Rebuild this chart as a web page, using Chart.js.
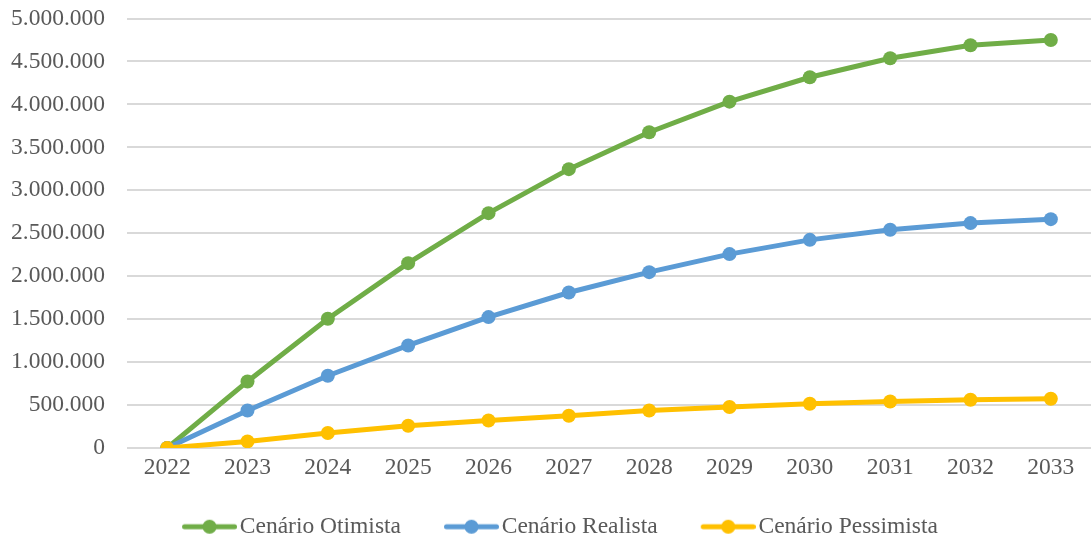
<!DOCTYPE html>
<html lang="pt-BR">
<head>
<meta charset="utf-8">
<title>Cenários 2022–2033</title>
<script src="https://cdn.jsdelivr.net/npm/chart.js@4/dist/chart.umd.min.js"></script>
<style>
  html, body { margin: 0; padding: 0; background: #fff; overflow: hidden; }
  #wrap { position: relative; width: 1098px; height: 541px; }
</style>
</head>
<body>
<div id="wrap"><canvas id="cenariosChart"></canvas></div>
<script>
// Series data
const years = ['2022', '2023', '2024', '2025', '2026', '2027', '2028', '2029', '2030', '2031', '2032', '2033'];
const otimista = [0, 775000, 1504000, 2152000, 2734000, 3246000, 3676000, 4032000, 4316000, 4537000, 4688000, 4750000];
const realista = [0, 437000, 841000, 1194000, 1524000, 1810000, 2047000, 2257000, 2423000, 2540000, 2618000, 2664000];
const pessimista = [0, 77000, 174000, 259000, 321000, 376000, 437000, 477000, 515000, 542000, 562000, 574000];
const seriesNames = ['Cenário Otimista', 'Cenário Realista', 'Cenário Pessimista'];
const seriesColors = ['#70AD47', '#5B9BD5', '#FFC000'];

const textColor = '#595959';
const fontFamily = '"Liberation Serif", "Times New Roman", serif';
const fontSize = 23.5;

// legend box width reserved per item; marker image is drawn in its right part
const legendBoxW = 69;

// 1.000.000 style thousands separator
function formatBR(v) {
    return String(v).replace(/\B(?=(\d{3})+(?!\d))/g, '.');
}

// Legend marker: short line with a dot in the middle
function legendMarker(color) {
    const c = document.createElement('canvas');
    c.width = legendBoxW + 18;
    c.height = 16;
    const g = c.getContext('2d');
    const x0 = c.width - 55;
    g.strokeStyle = color;
    g.lineWidth = 5;
    g.lineCap = 'round';
    g.beginPath();
    g.moveTo(x0 + 2.5, 8);
    g.lineTo(c.width - 2.5, 8);
    g.stroke();
    g.fillStyle = color;
    g.beginPath();
    g.arc(x0 + 27.5, 8, 7, 0, Math.PI * 2);
    g.fill();
    return c;
}
const markers = seriesColors.map(legendMarker);

function makeDataset(label, data, color, order) {
    return {
        label: label,
        data: data,
        borderColor: color,
        backgroundColor: color,
        borderWidth: 5,
        pointRadius: 7,
        pointBackgroundColor: color,
        pointBorderWidth: 0,
        tension: 0,
        order: order
    };
}

const ctx = document.getElementById('cenariosChart').getContext('2d');
new Chart(ctx, {
    type: 'line',
    data: {
        labels: years,
        datasets: [
            makeDataset(seriesNames[0], otimista, seriesColors[0], 3),
            makeDataset(seriesNames[1], realista, seriesColors[1], 2),
            makeDataset(seriesNames[2], pessimista, seriesColors[2], 1)
        ]
    },
    options: {
        responsive: true,
        maintainAspectRatio: false,
        animation: false,
        layout: {
            padding: { top: 18.5, left: 0, right: 1, bottom: -7.5 }
        },
        scales: {
            x: {
                offset: true,
                grid: { display: false, drawTicks: false },
                border: { display: false },
                ticks: {
                    color: textColor,
                    padding: 6,
                    font: { family: fontFamily, size: fontSize }
                },
                afterFit(scale) {
                    scale.height = 47;
                }
            },
            y: {
                min: 0,
                max: 5000000,
                grid: { color: '#D9D9D9', lineWidth: 2, drawTicks: false },
                border: { display: false },
                ticks: {
                    stepSize: 500000,
                    color: textColor,
                    padding: 22,
                    font: { family: fontFamily, size: fontSize },
                    callback: v => formatBR(v)
                },
                afterFit(scale) {
                    scale.width = 127;
                    scale.paddingTop = 0;
                    scale.paddingBottom = 0;
                }
            }
        },
        plugins: {
            tooltip: { enabled: false },
            legend: {
                position: 'bottom',
                labels: {
                    color: textColor,
                    font: { family: fontFamily, size: fontSize },
                    usePointStyle: true,
                    pointStyleWidth: legendBoxW,
                    padding: 20,
                    sort: (a, b) => a.datasetIndex - b.datasetIndex,
                    generateLabels(chart) {
                        const items = Chart.defaults.plugins.legend.labels.generateLabels(chart);
                        items.forEach(item => { item.pointStyle = markers[item.datasetIndex]; });
                        return items;
                    }
                }
            }
        }
    }
});
</script>
</body>
</html>
